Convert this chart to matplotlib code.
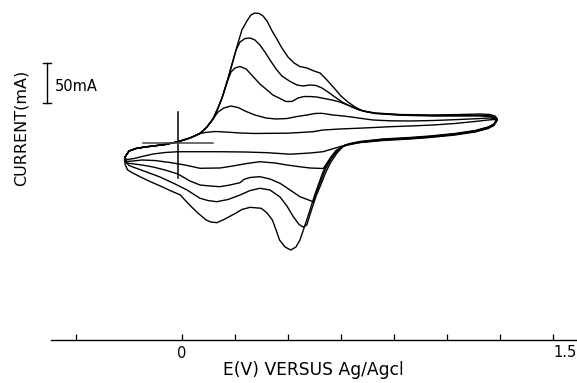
import numpy as np
import matplotlib
matplotlib.use('Agg')
import matplotlib.pyplot as plt


# cyclic voltammograms, potential E (V vs Ag/AgCl) and current (mA)
# all anodic sweeps start on the same foot near -0.2 V
foot_E = [-0.215, -0.200, -0.174, -0.140, -0.109, -0.064, -0.015, 0.030, 0.068]
foot_I = [-17.5, -10, -6.9, -5, -3.75, -1.9, 1.6, 6.25, 11.9]

# curve 1 (smallest)
up1_E = [0.087, 0.125, 0.162, 0.219, 0.275, 0.332, 0.396, 0.445, 0.494, 0.532, 0.596,
         0.660, 0.728, 0.785, 0.860, 0.947, 1.030, 1.106, 1.155, 1.181, 1.189]
up1_I = [13.1, 14.4, 13.75, 12.5, 11.9, 12.1, 12.25, 13.1, 14.1, 16.25, 17.5,
         18.4, 19.4, 20.4, 21.25, 22.5, 24.4, 26.9, 28.75, 29.4, 28.1]
dn1_E = [1.177, 1.155, 1.106, 1.030, 0.936, 0.860, 0.758, 0.672, 0.634, 0.596, 0.532, 0.483,
         0.408, 0.321, 0.238, 0.143, 0.068, -0.015, -0.064, -0.109, -0.151, -0.181, -0.205, -0.215]
dn1_I = [21.9, 18.1, 13.75, 10, 6.9, 5, 3.1, 0.6, -1.25, -4.6, -10.9, -12.5,
         -14, -12.1, -11.25, -10.9, -10.9, -10.9, -11.9, -13.75, -16.9, -19.4, -20.6, -19.4]

# curve 2
up2_E = [0.094, 0.117, 0.136, 0.158, 0.185, 0.211, 0.242, 0.275, 0.317, 0.355, 0.396, 0.434, 0.472, 0.502,
         0.528, 0.570, 0.608, 0.634, 0.679, 0.721, 0.785, 0.860, 0.947, 1.049, 1.125, 1.162, 1.181, 1.189]
up2_I = [20, 30, 38.75, 43.75, 46.25, 44.4, 39.4, 35, 31.25, 30, 30.6, 33.1, 35, 36.9,
         37.1, 35, 33.75, 32.75, 30.6, 28.75, 27.75, 27.5, 28.1, 29.4, 30.6, 31.25, 30.6, 28.75]
dn2_E = [1.177, 1.155, 1.106, 1.030, 0.936, 0.860, 0.758, 0.672, 0.634, 0.608, 0.581, 0.562, 0.547, 0.533, 0.483,
         0.438, 0.396, 0.351, 0.294, 0.245, 0.192, 0.143, 0.068, 0.011, -0.045, -0.102, -0.151, -0.185, -0.208, -0.215]
dn2_I = [22.5, 18.75, 14.4, 10.6, 7.5, 5.6, 3.75, 0.6, -1.9, -3.75, -9.4, -17.5, -25, -31.9, -31.25,
         -29.4, -27.5, -25, -23.4, -25.6, -28.75, -31.25, -31.6, -27.5, -24.4, -21.9, -21.25, -22.5, -23.1, -20]

# curve 3
up3_E = [0.094, 0.117, 0.136, 0.151, 0.170, 0.185, 0.200, 0.219, 0.242, 0.268, 0.294, 0.321, 0.343, 0.370, 0.392, 0.415, 0.438,
         0.460, 0.483, 0.509, 0.532, 0.566, 0.596, 0.634, 0.664, 0.691, 0.728, 0.823, 0.947, 1.049, 1.125, 1.162, 1.181, 1.189]
up3_I = [20, 30, 43.75, 56.25, 76.25, 88.75, 93.75, 95.6, 92.5, 83.1, 73.75, 66.25, 60, 55.6, 51.9, 51.9, 56.25,
         58.1, 58.1, 57.5, 55.9, 53.75, 51.25, 46.25, 41.9, 39.4, 36.9, 34.75, 33.75, 33.75, 33.75, 33.1, 31.25, 29.4]
dn3_E = [1.177, 1.155, 1.106, 1.030, 0.936, 0.860, 0.758, 0.672, 0.634, 0.608, 0.581, 0.558, 0.540, 0.521, 0.506, 0.495, 0.468, 0.445, 0.408,
         0.370, 0.332, 0.294, 0.257, 0.234, 0.219, 0.181, 0.143, 0.106, 0.068, 0.030, -0.015, -0.064, -0.109, -0.151, -0.181, -0.208, -0.216]
dn3_I = [23.1, 19.4, 15, 11.25, 8.1, 6.25, 4.4, 1.25, -1.25, -3.75, -11.25, -22.5, -33.75, -50, -63.75, -73.4, -70, -67.1, -58.75,
         -50.4, -45, -42.1, -43.1, -45.4, -49.6, -52.5, -54.6, -53.75, -52.5, -47.5, -38.75, -33.75, -30, -27.5, -26.25, -25, -21.25]

# curve 4
up4_E = [0.094, 0.117, 0.136, 0.151, 0.170, 0.189, 0.204, 0.219, 0.238, 0.257, 0.275, 0.294, 0.313, 0.332, 0.355, 0.377, 0.408, 0.434,
         0.457, 0.483, 0.506, 0.528, 0.551, 0.577, 0.604, 0.634, 0.664, 0.691, 0.728, 0.823, 0.947, 1.049, 1.125, 1.162, 1.181, 1.189]
up4_I = [20, 30, 43.75, 56.25, 76.25, 98.75, 116.25, 126.25, 130.6, 131.25, 128.75, 122.5, 113.75, 103.75, 92.5, 83.75, 76.9, 72.5,
         71.25, 72.5, 71.9, 68.75, 63.75, 57.5, 51.25, 46.25, 41.9, 39.4, 37.25, 35.25, 34.4, 34.6, 34.75, 34.1, 32.25, 30]
dn4_E = [1.177, 1.155, 1.106, 1.030, 0.936, 0.860, 0.758, 0.672, 0.634, 0.608, 0.585, 0.562, 0.543, 0.525, 0.506, 0.491, 0.479, 0.471, 0.457,
         0.442, 0.420, 0.396, 0.370, 0.332, 0.294, 0.257, 0.219, 0.174, 0.131, 0.098, 0.068, 0.019, -0.026, -0.083, -0.128, -0.170, -0.200, -0.216]
dn4_I = [23.1, 19.4, 15, 11.25, 8.1, 6.25, 4.4, 1.25, -1.25, -4.4, -12.5, -23.75, -36.25, -51.25, -66.25, -81.25, -93.75, -102.5, -105,
         -101.9, -92.1, -78.75, -67.5, -58.75, -56.6, -59.4, -65, -70.6, -73.4, -71.9, -69.1, -58.75, -51.25, -42.5, -36.9, -31.9, -28.1, -22.5]

# curve 5 (largest)
up5_E = [0.094, 0.117, 0.136, 0.151, 0.170, 0.189, 0.208, 0.226, 0.245, 0.260, 0.275, 0.291, 0.306, 0.321, 0.340, 0.358, 0.377, 0.400, 0.423,
         0.445, 0.472, 0.498, 0.521, 0.547, 0.574, 0.600, 0.626, 0.653, 0.679, 0.728, 0.823, 0.947, 1.049, 1.125, 1.162, 1.181, 1.189]
up5_I = [20, 30, 43.75, 56.25, 76.25, 98.75, 121.25, 141.25, 152.5, 160, 162.5, 161.9, 158.75, 152.5, 140, 130, 118.75, 107.5, 100,
         95.6, 93.75, 90, 87.5, 78.75, 68.75, 58.75, 51.25, 45, 40.6, 37.5, 35.6, 35, 35.6, 36.25, 35.6, 33.75, 30.6]
dn5_E = [1.177, 1.155, 1.106, 1.030, 0.936, 0.860, 0.758, 0.672, 0.634, 0.615, 0.591, 0.570, 0.549, 0.532, 0.521, 0.502, 0.487, 0.472, 0.458,
         0.445, 0.430, 0.410, 0.389, 0.368, 0.355, 0.341, 0.321, 0.299, 0.257, 0.226, 0.202, 0.162, 0.132, 0.109, 0.091, 0.060, 0.035, 0.011,
         -0.006, -0.045, -0.076, -0.121, -0.159, -0.189, -0.205, -0.214, -0.217]
dn5_I = [23.75, 20, 15.6, 11.9, 8.75, 6.9, 5, 1.9, -0.6, -2.5, -8.75, -16.25, -25.4, -36.25, -46.25, -63.75, -79.6, -95, -108.75,
         -121.25, -130, -133.75, -130, -121.25, -108.75, -96.25, -87.5, -81.6, -80.4, -83.1, -87.9, -95, -99.6, -98.75, -96.25, -87.5, -79.6, -71.25,
         -65, -59.4, -54.6, -48.1, -42.1, -36.9, -33.75, -27.5, -21.25]

curves = [(up1_E, up1_I, dn1_E, dn1_I),
          (up2_E, up2_I, dn2_E, dn2_I),
          (up3_E, up3_I, dn3_E, dn3_I),
          (up4_E, up4_I, dn4_E, dn4_I),
          (up5_E, up5_I, dn5_E, dn5_I)]

xticks = [-0.4, 0, 0.2, 0.4, 0.6, 0.8, 1.0, 1.2, 1.4]
xticklabels = ['', '0', '', '', '', '', '', '', '']

plt.rcParams['font.family'] = ['DejaVu Sans']

fig = plt.figure(figsize=(5.77, 3.83), dpi=100)
ax = fig.add_axes([0, 0, 1, 1])
ax.set_xlim(-0.6868, 1.4906)
ax.set_ylim(-300, 178.75)

for upE, upI, dnE, dnI in curves:
    E = np.concatenate([foot_E, upE, dnE])
    I = np.concatenate([foot_I, upI, dnI])
    ax.plot(E, I, color='black', lw=1.0, solid_joinstyle='round')

# crosshair marking the origin
ax.plot([-0.016, -0.016], [38.75, -43.75], color='black', lw=1.1)
ax.plot([-0.147, 0.117], [0, 0], color='#444444', lw=1.1)

# 50 mA scale bar
ax.plot([-0.511, -0.511], [50, 100], color='black', lw=1.0)
ax.plot([-0.523, -0.496], [100, 100], color='black', lw=1.0)
ax.plot([-0.523, -0.496], [50, 50], color='black', lw=1.0)
ax.text(-0.481, 71, '50mA', fontsize=10.5, ha='left', va='center')

ax.text(-0.608, 19, 'CURRENT(mA)', fontsize=11.5, rotation=90, ha='center', va='center')

# potential axis, drawn as a free floating bottom spine
for s in ['top', 'right', 'left']:
    ax.spines[s].set_visible(False)
ax.spines['bottom'].set_position(('data', -246.25))
ax.spines['bottom'].set_bounds(-0.494, 1.4906)
ax.spines['bottom'].set_linewidth(1.0)
ax.set_yticks([])
ax.set_xticks(xticks)
ax.set_xticklabels(xticklabels)
ax.tick_params(axis='x', direction='in', length=4, width=0.9, pad=4, labelsize=10.5)
ax.text(1.488, -262, '1.5', fontsize=10.5, ha='right', va='center')
ax.text(0.494, -284, 'E(V) VERSUS Ag/Agcl', fontsize=12.3, ha='center', va='center')

fig.savefig('out.png', dpi=100)
